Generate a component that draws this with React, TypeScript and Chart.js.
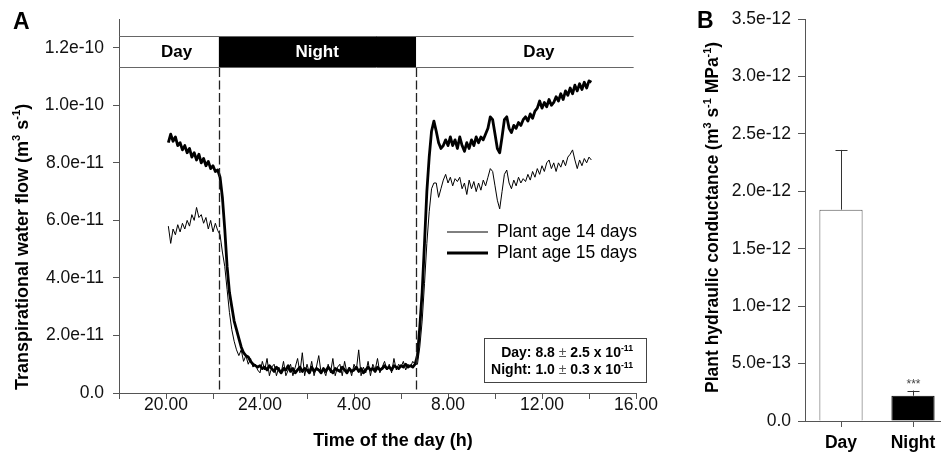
import React, { useEffect, useRef } from 'react';
import { Chart, registerables } from 'chart.js';
Chart.register(...registerables);

const FONT = '"Liberation Sans", Arial, Helvetica, sans-serif';

// ---------- Panel A data (time in hours, >24 = next day; flow in 1e-11 m3 s-1) ----------
const timeH = [
  20.1, 20.2, 20.3, 20.4, 20.5, 20.6, 20.7, 20.8, 20.9, 21.0,
  21.1, 21.2, 21.3, 21.4, 21.5, 21.6, 21.7, 21.8, 21.9, 22.0,
  22.1, 22.2, 22.3, 22.4, 22.5, 22.6, 22.7, 22.8, 22.9, 23.0,
  23.1, 23.2, 23.3, 23.4, 23.5, 23.6, 23.7, 23.8, 23.9, 24.0,
  24.1, 24.2, 24.3, 24.4, 24.5, 24.6, 24.7, 24.8, 24.9, 25.0,
  25.1, 25.2, 25.3, 25.4, 25.5, 25.6, 25.7, 25.8, 25.9, 26.0,
  26.1, 26.2, 26.3, 26.4, 26.5, 26.6, 26.7, 26.8, 26.9, 27.0,
  27.1, 27.2, 27.3, 27.4, 27.5, 27.6, 27.7, 27.8, 27.9, 28.0,
  28.1, 28.2, 28.3, 28.4, 28.5, 28.6, 28.7, 28.8, 28.9, 29.0,
  29.1, 29.2, 29.3, 29.4, 29.5, 29.6, 29.7, 29.8, 29.9, 30.0,
  30.1, 30.2, 30.3, 30.4, 30.5, 30.6, 30.7, 30.8, 30.9, 31.0,
  31.1, 31.2, 31.3, 31.4, 31.5, 31.6, 31.7, 31.8, 31.9, 32.0,
  32.1, 32.2, 32.3, 32.4, 32.5, 32.6, 32.7, 32.8, 32.9, 33.0,
  33.1, 33.2, 33.3, 33.4, 33.5, 33.6, 33.7, 33.8, 33.9, 34.0,
  34.1, 34.2, 34.3, 34.4, 34.5, 34.6, 34.7, 34.8, 34.9, 35.0,
  35.1, 35.2, 35.3, 35.4, 35.5, 35.6, 35.7, 35.8, 35.9, 36.0,
  36.1, 36.2, 36.3, 36.4, 36.5, 36.6, 36.7, 36.8, 36.9, 37.0,
  37.1, 37.2, 37.3, 37.4, 37.5, 37.6, 37.7, 37.8, 37.9, 38.0,
  38.1,
];

const flow14 = [
  5.8, 5.2, 5.7, 5.5, 5.85, 5.6, 5.9, 5.7, 6.0, 5.8,
  6.2, 6.0, 6.45, 6.1, 6.2, 5.9, 6.1, 5.7, 6.0, 5.6,
  5.9, 5.65, 5.5, 4.9, 4.4, 3.6, 2.8, 2.2, 1.8, 1.5,
  1.3, 1.5, 1.1, 1.3, 1.0, 1.2, 0.9, 1.0, 0.8, 0.7,
  1.1, 0.8, 1.2, 0.6, 0.9, 1.0, 0.6, 0.9, 0.7, 1.1,
  0.6, 0.8, 1.0, 0.6, 0.9, 1.2, 0.7, 1.4, 0.6, 1.0,
  0.7, 1.1, 0.6, 0.9, 1.3, 0.7, 0.8, 0.6, 1.0, 0.7,
  1.2, 0.6, 0.9, 1.0, 0.6, 1.1, 0.7, 0.9, 0.6, 1.0,
  0.8, 1.5, 0.6, 0.9, 0.7, 1.1, 0.6, 1.0, 0.8, 1.2,
  0.7, 0.9, 1.1, 0.8, 1.0, 0.7, 1.2, 0.8, 1.0, 0.9,
  1.1, 0.8, 1.0, 0.9, 1.1, 1.0, 1.0, 1.6, 2.5, 3.8,
  5.2, 6.3, 7.1, 7.3, 7.3, 6.8, 7.1, 7.4, 7.6, 7.3,
  7.5, 7.2, 7.45, 7.35, 7.5, 7.1, 7.3, 6.9, 7.4, 7.1,
  7.35, 7.0, 7.3, 7.05, 7.4, 7.2, 7.5, 7.8, 7.7, 7.2,
  6.7, 6.4, 7.0, 7.6, 7.75, 7.3, 7.1, 7.4, 7.2, 7.5,
  7.3, 7.45, 7.35, 7.6, 7.4, 7.7, 7.5, 7.8, 7.6, 7.9,
  7.7, 8.0, 8.1, 7.8, 8.0, 7.7, 8.0, 7.85, 8.1, 7.9,
  8.2, 8.3, 8.45, 8.1, 7.8, 8.1, 7.9, 8.15, 8.0, 8.2,
  8.1,
];

const flow15 = [
  8.7, 9.0, 8.75, 8.9, 8.6, 8.7, 8.45, 8.6, 8.35, 8.5,
  8.2, 8.35, 8.1, 8.3, 8.0, 8.15, 7.9, 8.05, 7.8, 7.9,
  7.7, 7.75, 7.5, 6.8, 5.7, 4.4, 3.5, 3.0, 2.5, 2.2,
  1.9, 1.6, 1.4, 1.3, 1.25, 1.1, 1.0, 0.95, 0.9, 0.95,
  0.85, 0.9, 0.8, 0.95, 0.85, 0.75, 0.9, 0.8, 0.7, 0.85,
  0.8, 0.95, 0.75, 0.85, 0.7, 0.8, 0.9, 0.75, 0.85, 0.8,
  0.7, 0.9, 0.75, 0.85, 0.8, 0.7, 0.85, 0.75, 0.9, 0.8,
  0.7, 0.85, 0.8, 0.75, 0.9, 0.8, 0.7, 0.85, 0.75, 0.8,
  0.9, 0.75, 0.85, 0.7, 0.8, 0.9, 0.8, 0.85, 0.75, 0.9,
  0.8, 0.85, 0.95, 0.85, 0.9, 0.8, 0.95, 0.9, 0.85, 0.95,
  0.9, 1.0, 0.9, 0.95, 0.9, 1.0, 1.3, 2.3, 3.5, 5.2,
  7.0, 8.2, 9.1, 9.45, 9.1, 8.7, 8.5, 8.6, 8.8, 8.6,
  8.9, 8.6, 8.8, 8.5, 8.9, 8.6, 8.4, 8.7, 8.5, 8.8,
  8.6, 8.9, 8.7, 8.9, 8.8, 9.0, 9.2, 9.6, 9.5, 9.0,
  8.5, 8.35, 8.9, 9.5, 9.6, 9.2, 9.05, 9.3, 9.2, 9.4,
  9.3, 9.5, 9.6, 9.45, 9.7, 9.55, 9.8, 9.9, 10.15, 9.9,
  10.1, 9.95, 10.2, 10.0, 10.1, 10.3, 10.15, 10.4, 10.2, 10.5,
  10.35, 10.6, 10.4, 10.7, 10.5, 10.75, 10.55, 10.8, 10.6, 10.85,
  10.8,
];

const seriesLabels = ['Plant age 14 days', 'Plant age 15 days'];
const seriesWidths = [1, 2.8];

const xTickValues = [18, 20, 22, 24, 26, 28, 30, 32, 34, 36, 38, 40];
const xTickLabels = ['', '20.00', '', '24.00', '', '4.00', '', '8.00', '', '12.00', '', '16.00'];
const yTickValuesA = [0, 2, 4, 6, 8, 10, 12];
const yTickLabelsA = ['0.0', '2.0e-11', '4.0e-11', '6.0e-11', '8.0e-11', '1.0e-10', '1.2e-10'];

const periodNames = ['Day', 'Night', 'Day'];
const periodBounds = [18, 22.25, 30.64, 39.9];
const periodLabelAt = [20.45, 26.43, 35.87];

const summaryNames = ['Day', 'Night'];
const summaryMeans = ['8.8', '1.0'];
const summarySds = ['2.5', '0.3'];
const summaryExp = '-11';

// ---------- Panel B data (1e-12 m3 s-1 MPa-1) ----------
const bCategories = ['Day', 'Night'];
const bValues = [1.84, 0.22];
const bErrors = [0.52, 0.045];
const bSig = ['', '***'];
const yTickValuesB = [0, 0.5, 1, 1.5, 2, 2.5, 3, 3.5];
const yTickLabelsB = ['0.0', '5.0e-13', '1.0e-12', '1.5e-12', '2.0e-12', '2.5e-12', '3.0e-12', '3.5e-12'];

type Part = { t: string; sup?: boolean; bold?: boolean; color?: string };

function drawRich(ctx: CanvasRenderingContext2D, parts: Part[], x: number, y: number, size: number, align: 'left' | 'right' | 'center') {
  const fontOf = (p: Part) => `${p.bold ? 'bold ' : ''}${p.sup ? size * 0.62 : size}px ${FONT}`;
  let total = 0;
  const widths = parts.map((p) => {
    ctx.font = fontOf(p);
    const w = ctx.measureText(p.t).width;
    total += w;
    return w;
  });
  let cx = align === 'left' ? x : align === 'right' ? x - total : x - total / 2;
  ctx.textAlign = 'left';
  ctx.textBaseline = 'alphabetic';
  parts.forEach((p, i) => {
    ctx.font = fontOf(p);
    ctx.fillStyle = p.color || '#000';
    ctx.fillText(p.t, cx, p.sup ? y - size * 0.42 : y);
    cx += widths[i];
  });
}

const AXIS = '#555';

export default function App() {
  const refA = useRef<HTMLCanvasElement>(null);
  const refB = useRef<HTMLCanvasElement>(null);

  useEffect(() => {
    const ctxA = refA.current!.getContext('2d')!;
    const decorA = {
      id: 'decorA',
      afterDraw(chart: any) {
        const ctx = chart.ctx as CanvasRenderingContext2D;
        const xs = chart.scales.x;
        const area = chart.chartArea;
        ctx.save();
        // header band
        const bTop = area.top + 17;
        const bBot = area.top + 48;
        const nx0 = xs.getPixelForValue(periodBounds[1]);
        const nx1 = xs.getPixelForValue(periodBounds[2]);
        ctx.fillStyle = '#000';
        ctx.fillRect(nx0, bTop, nx1 - nx0, bBot - bTop);
        ctx.strokeStyle = '#666';
        ctx.lineWidth = 1;
        ctx.beginPath();
        const xEnd = xs.getPixelForValue(periodBounds[3]);
        ctx.moveTo(area.left, bTop + 0.5);
        ctx.lineTo(xEnd, bTop + 0.5);
        ctx.moveTo(area.left, bBot + 0.5);
        ctx.lineTo(xEnd, bBot + 0.5);
        ctx.stroke();
        ctx.font = `bold 17px ${FONT}`;
        ctx.textAlign = 'center';
        ctx.textBaseline = 'middle';
        periodNames.forEach((n, i) => {
          ctx.fillStyle = i === 1 ? '#fff' : '#000';
          ctx.fillText(n, xs.getPixelForValue(periodLabelAt[i]), (bTop + bBot) / 2 + 1);
        });
        // dashed boundaries
        ctx.strokeStyle = '#222';
        ctx.lineWidth = 1.3;
        ctx.setLineDash([9, 3.5]);
        [periodBounds[1], periodBounds[2]].forEach((v) => {
          const px = Math.round(xs.getPixelForValue(v)) + 0.5;
          ctx.beginPath();
          ctx.moveTo(px, bBot + 1);
          ctx.lineTo(px, area.bottom);
          ctx.stroke();
        });
        ctx.setLineDash([]);
        // legend
        seriesLabels.forEach((l, i) => {
          const y = 232 + 21 * i;
          ctx.strokeStyle = '#000';
          ctx.lineWidth = seriesWidths[i];
          ctx.beginPath();
          ctx.moveTo(447, y);
          ctx.lineTo(488, y);
          ctx.stroke();
          ctx.fillStyle = '#000';
          ctx.font = `17.5px ${FONT}`;
          ctx.textAlign = 'left';
          ctx.textBaseline = 'middle';
          ctx.fillText(l, 497, y);
        });
        // summary box
        ctx.fillStyle = '#fff';
        ctx.fillRect(484.5, 338.5, 162, 44);
        ctx.strokeStyle = '#444';
        ctx.lineWidth = 1;
        ctx.strokeRect(484.5, 338.5, 162, 44);
        summaryNames.forEach((n, i) => {
          drawRich(ctx, [
            { t: `${n}: ${summaryMeans[i]} `, bold: true },
            { t: '±', color: '#555' },
            { t: ` ${summarySds[i]} x 10`, bold: true },
            { t: summaryExp, bold: true, sup: true },
          ], 633, 356.5 + 17 * i, 14, 'right');
        });
        // titles
        ctx.save();
        ctx.translate(28, 390);
        ctx.rotate(-Math.PI / 2);
        drawRich(ctx, [
          { t: 'Transpirational water flow (m', bold: true },
          { t: '3', bold: true, sup: true },
          { t: ' s', bold: true },
          { t: '-1', bold: true, sup: true },
          { t: ')', bold: true },
        ], 0, 0, 18, 'left');
        ctx.restore();
        ctx.font = `bold 18px ${FONT}`;
        ctx.fillStyle = '#000';
        ctx.textAlign = 'center';
        ctx.textBaseline = 'alphabetic';
        ctx.fillText('Time of the day (h)', 393, 446);
        ctx.font = `bold 23px ${FONT}`;
        ctx.textAlign = 'left';
        ctx.fillText('A', 13, 29);
        ctx.restore();
      },
    };

    const chartA = new Chart(ctxA, {
      type: 'line',
      data: {
        datasets: [
          {
            label: seriesLabels[0],
            data: timeH.map((t, i) => ({ x: t, y: flow14[i] })),
            borderColor: '#000',
            borderWidth: seriesWidths[0],
            pointRadius: 0,
            tension: 0,
            fill: false,
          },
          {
            label: seriesLabels[1],
            data: timeH.map((t, i) => ({ x: t, y: flow15[i] })),
            borderColor: '#000',
            borderWidth: seriesWidths[1],
            pointRadius: 0,
            tension: 0,
            fill: false,
            borderJoinStyle: 'round',
          },
        ],
      },
      options: {
        responsive: false,
        animation: false,
        layout: { padding: { top: 19, right: 44, left: 0, bottom: 0 } },
        plugins: { legend: { display: false }, tooltip: { enabled: false } },
        scales: {
          x: {
            type: 'linear',
            min: 18,
            max: 40,
            afterBuildTicks: (s: any) => { s.ticks = xTickValues.map((v) => ({ value: v })); },
            afterFit: (s: any) => { s.height = 61; },
            grid: { drawOnChartArea: false, drawTicks: true, tickLength: 6, color: AXIS },
            border: { display: true, color: AXIS, width: 1 },
            ticks: {
              autoSkip: false,
              maxRotation: 0,
              minRotation: 0,
              padding: -3,
              color: '#111',
              font: { family: FONT, size: 17.5, lineHeight: 1 },
              callback: (v: any) => xTickLabels[xTickValues.indexOf(Number(v))] ?? '',
            },
          },
          y: {
            type: 'linear',
            min: 0,
            max: 13,
            afterBuildTicks: (s: any) => { s.ticks = yTickValuesA.map((v) => ({ value: v })); },
            afterFit: (s: any) => { s.width = 119; },
            grid: { drawOnChartArea: false, drawTicks: true, tickLength: 6, color: AXIS },
            border: { display: true, color: AXIS, width: 1 },
            ticks: {
              autoSkip: false,
              padding: 9,
              color: '#111',
              font: { family: FONT, size: 17.5, lineHeight: 1 },
              callback: (v: any) => yTickLabelsA[yTickValuesA.indexOf(Number(v))] ?? '',
            },
          },
        },
      },
      plugins: [decorA],
    } as any);

    const ctxB = refB.current!.getContext('2d')!;
    const decorB = {
      id: 'decorB',
      afterDraw(chart: any) {
        const ctx = chart.ctx as CanvasRenderingContext2D;
        const xs = chart.scales.x;
        const ys = chart.scales.y;
        ctx.save();
        bValues.forEach((v, i) => {
          const x = Math.round(xs.getPixelForValue(i)) + 0.5;
          const yTop = ys.getPixelForValue(v + bErrors[i]);
          const yBar = ys.getPixelForValue(v);
          ctx.strokeStyle = '#333';
          ctx.lineWidth = 1;
          ctx.beginPath();
          ctx.moveTo(x, yBar);
          ctx.lineTo(x, yTop);
          ctx.moveTo(x - 6, Math.round(yTop) + 0.5);
          ctx.lineTo(x + 6, Math.round(yTop) + 0.5);
          ctx.stroke();
          if (bSig[i]) {
            ctx.fillStyle = '#444';
            ctx.font = `12px ${FONT}`;
            ctx.textAlign = 'center';
            ctx.textBaseline = 'alphabetic';
            ctx.fillText(bSig[i], x, yTop - 3);
          }
        });
        ctx.save();
        ctx.translate(38, 393);
        ctx.rotate(-Math.PI / 2);
        drawRich(ctx, [
          { t: 'Plant hydraulic conductance (m', bold: true },
          { t: '3', bold: true, sup: true },
          { t: ' s', bold: true },
          { t: '-1', bold: true, sup: true },
          { t: ' MPa', bold: true },
          { t: '-1', bold: true, sup: true },
          { t: ')', bold: true },
        ], 0, 0, 17.5, 'left');
        ctx.restore();
        ctx.fillStyle = '#000';
        ctx.font = `bold 23px ${FONT}`;
        ctx.textAlign = 'left';
        ctx.textBaseline = 'alphabetic';
        ctx.fillText('B', 17, 28);
        ctx.restore();
      },
    };

    const chartB = new Chart(ctxB, {
      type: 'bar',
      data: {
        labels: bCategories,
        datasets: [
          {
            data: bValues,
            backgroundColor: ['#fff', '#000'],
            borderColor: ['#555', '#000'],
            borderWidth: 1,
            barPercentage: 0.6,
            categoryPercentage: 1,
          },
        ],
      },
      options: {
        responsive: false,
        animation: false,
        layout: { padding: { top: 19, right: 11, left: 0, bottom: 0 } },
        plugins: { legend: { display: false }, tooltip: { enabled: false } },
        scales: {
          x: {
            afterFit: (s: any) => { s.height = 33; },
            grid: { offset: false, drawOnChartArea: false, drawTicks: true, tickLength: 6, color: AXIS },
            border: { display: true, color: AXIS, width: 1 },
            ticks: {
              padding: 7,
              color: '#000',
              font: { family: FONT, size: 17.5, weight: 'bold', lineHeight: 1 },
            },
          },
          y: {
            min: 0,
            max: 3.5,
            afterBuildTicks: (s: any) => { s.ticks = yTickValuesB.map((v) => ({ value: v })); },
            afterFit: (s: any) => { s.width = 125; },
            grid: { drawOnChartArea: false, drawTicks: true, tickLength: 7, color: AXIS },
            border: { display: true, color: AXIS, width: 1 },
            ticks: {
              autoSkip: false,
              padding: 7,
              color: '#111',
              font: { family: FONT, size: 17.5, lineHeight: 1 },
              callback: (v: any) => yTickLabelsB[yTickValuesB.indexOf(Number(v))] ?? '',
            },
          },
        },
      },
      plugins: [decorB],
    } as any);

    return () => {
      chartA.destroy();
      chartB.destroy();
    };
  }, []);

  return (
    <div style={{ position: 'fixed', left: 0, top: 0, width: 941, height: 454, overflow: 'hidden', background: '#fff' }}>
      <canvas ref={refA} width={680} height={454} style={{ position: 'absolute', left: 0, top: 0, width: 680, height: 454 }} />
      <canvas ref={refB} width={280} height={454} style={{ position: 'absolute', left: 680, top: 0, width: 280, height: 454 }} />
    </div>
  );
}
